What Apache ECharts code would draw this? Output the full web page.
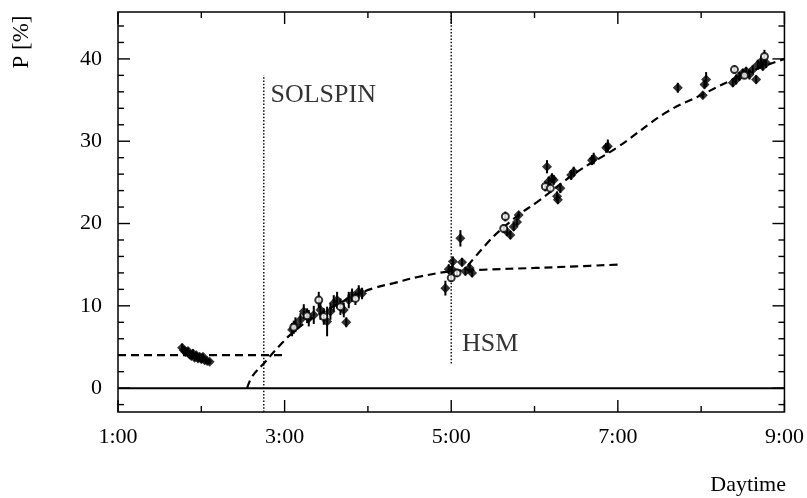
<!DOCTYPE html>
<html>
<head>
<meta charset="utf-8">
<script src="https://cdn.jsdelivr.net/npm/echarts@6/dist/echarts.min.js"></script>
<style>
  html, body { margin: 0; padding: 0; background: #fff; }
  #chart { width: 807px; height: 498px; }
</style>
</head>
<body>
<div id="chart"></div>
<script>
// measurements: [hour, P %, error]
const filledPoints = [
  [1.77, 4.9, 0.5], [1.79, 4.6, 0.4], [1.81, 4.4, 0.5], [1.84, 4.5, 0.4], [1.86, 4.1, 0.4],
  [1.88, 3.9, 0.4], [1.90, 4.2, 0.5], [1.92, 3.7, 0.4], [1.94, 4.0, 0.4], [1.96, 3.6, 0.4],
  [1.98, 3.8, 0.4], [2.00, 3.5, 0.4], [2.02, 3.8, 0.4], [2.04, 3.4, 0.3], [2.07, 3.3, 0.3],
  [2.10, 3.2, 0.3],
  [3.09, 7.1, 0.8], [3.13, 7.7, 0.9], [3.19, 8.3, 0.8], [3.23, 9.3, 0.9], [3.29, 8.5, 1.0],
  [3.35, 8.9, 1.1], [3.43, 9.5, 1.2], [3.51, 8.1, 1.8], [3.55, 9.3, 1.0], [3.59, 10.3, 1.0],
  [3.63, 10.7, 1.0], [3.71, 9.5, 0.9], [3.74, 8.0, 0.6], [3.77, 10.7, 1.0], [3.81, 11.3, 0.8],
  [3.89, 11.7, 0.8], [3.93, 11.5, 0.7],
  [4.93, 12.15, 0.9], [4.97, 14.45, 0.6], [5.02, 15.4, 0.6], [5.01, 14.4, 0.5], [5.11, 18.2, 1.0],
  [5.13, 15.3, 0.5], [5.17, 14.2, 0.5], [5.22, 14.6, 0.6], [5.25, 14.0, 0.5],
  [5.67, 19.0, 0.5], [5.71, 18.6, 0.5], [5.75, 19.6, 0.5], [5.79, 20.2, 0.4], [5.81, 21.05, 0.4],
  [6.15, 26.9, 0.8], [6.21, 25.5, 0.6], [6.17, 25.1, 0.6], [6.23, 25.3, 0.6], [6.27, 23.3, 0.6],
  [6.28, 22.9, 0.5], [6.31, 24.3, 0.6], [6.44, 25.9, 0.6], [6.47, 26.3, 0.6], [6.69, 27.7, 0.6],
  [6.71, 27.9, 0.7], [6.86, 29.2, 0.6], [6.88, 29.4, 0.8],
  [7.72, 36.5, 0.6], [8.02, 35.6, 0.4], [8.04, 36.9, 0.5], [8.06, 37.5, 0.9], [8.38, 37.1, 0.5],
  [8.42, 37.5, 0.6], [8.46, 37.9, 0.5], [8.50, 38.3, 0.5], [8.54, 38.5, 0.5], [8.58, 38.1, 0.6],
  [8.62, 38.7, 0.5], [8.66, 37.5, 0.5], [8.68, 39.3, 0.6], [8.72, 39.7, 0.6], [8.78, 39.5, 0.6],
  [8.74, 39.1, 0.5]
];
const openPoints = [
  [3.11, 7.4, 0.8], [3.27, 8.8, 0.9], [3.41, 10.7, 1.0], [3.47, 8.7, 1.0], [3.67, 9.9, 1.0],
  [3.85, 10.9, 0.8],
  [5.00, 13.4, 0.5], [5.07, 14.0, 0.5],
  [5.63, 19.4, 0.5], [5.65, 20.85, 0.6],
  [6.13, 24.5, 0.6], [6.19, 24.3, 0.6],
  [8.40, 38.7, 0.5], [8.52, 38.0, 0.4], [8.76, 40.3, 0.8]
];

// dashed fits
const flatFit = [[1.0, 4.0], [3.0, 4.0]];
const riseFit = [
  [2.55, 0], [2.61, 1.4], [2.75, 3.0], [2.93, 5.05], [3.07, 6.5], [3.3, 8.3], [3.6, 10.0],
  [3.85, 11.3], [4.07, 12.15], [4.31, 12.76], [4.6, 13.5], [5.0, 14.2], [5.4, 14.4],
  [6.0, 14.6], [6.5, 14.8], [7.0, 15.0]
];
const secondFit = [
  [5.2, 14.9], [5.43, 17.6], [5.59, 19.2], [5.83, 21.2], [6.03, 22.6], [6.5, 26.2],
  [7.0, 29.3], [7.58, 33.5], [8.0, 35.6], [8.38, 37.5], [8.7, 38.9], [9.0, 40.0]
];
const zeroLine = [[1, 0], [9, 0]];
const solspinLine = [[2.75, -2.9], [2.75, 38]];
const hsmLine = [[5.0, 3.0], [5.0, 45.7]];
const annotations = [
  { name: 'SOLSPIN', value: [2.83, 35.6] },
  { name: 'HSM', value: [5.13, 5.3] }
];

const xLabels = [1, 3, 5, 7, 9];
const xMinor = [2, 4, 6, 8];
const yLabels = [0, 10, 20, 30, 40];
const yMinor = [-2, 2, 4, 6, 8, 12, 14, 16, 18, 22, 24, 26, 28, 32, 34, 36, 38, 42, 44];

const X_MIN = 1, X_MAX = 9, Y_MIN = -2.9, Y_MAX = 45.7;
const FONT = 'Liberation Serif';
const black = '#000';
const MAJOR = 12, MINOR = 6;

const errorData = filledPoints.concat(openPoints);

const chart = echarts.init(document.getElementById('chart'));
chart.setOption({
  animation: false,
  grid: {
    left: 118, right: 20, top: 12, bottom: 86,
    show: true, borderColor: black, borderWidth: 1.5
  },
  xAxis: {
    type: 'value', min: X_MIN, max: X_MAX,
    axisLine: { show: false, onZero: false },
    axisTick: { show: false },
    splitLine: { show: false },
    axisLabel: {
      customValues: xLabels, color: black, fontFamily: FONT, fontSize: 22, margin: 14,
      formatter: (v) => v + ':00'
    }
  },
  yAxis: {
    type: 'value', min: Y_MIN, max: Y_MAX,
    axisLine: { show: false, onZero: false },
    axisTick: { show: false },
    splitLine: { show: false },
    axisLabel: {
      customValues: yLabels, color: black, fontFamily: FONT, fontSize: 22, margin: 16
    }
  },
  series: [
    {
      type: 'line', data: zeroLine, symbol: 'none',
      lineStyle: { color: black, width: 2 }
    },
    {
      type: 'line', data: solspinLine, symbol: 'none',
      lineStyle: { color: black, width: 1.4, type: [1.5, 1.8] }
    },
    {
      type: 'line', data: hsmLine, symbol: 'none',
      lineStyle: { color: black, width: 1.4, type: [1.5, 1.8] }
    },
    {
      type: 'line', data: flatFit, symbol: 'none',
      lineStyle: { color: black, width: 2.2, type: [8, 5] }
    },
    {
      type: 'line', data: riseFit, symbol: 'none', smooth: 0.4,
      lineStyle: { color: black, width: 2.2, type: [8, 5] }
    },
    {
      type: 'line', data: secondFit, symbol: 'none', smooth: 0.4,
      lineStyle: { color: black, width: 2.2, type: [8, 5] }
    },
    {
      type: 'custom',
      data: errorData,
      renderItem: function (params, api) {
        const lo = api.coord([api.value(0), api.value(1) - api.value(2)]);
        const hi = api.coord([api.value(0), api.value(1) + api.value(2)]);
        return {
          type: 'line',
          shape: { x1: lo[0], y1: lo[1], x2: hi[0], y2: hi[1] },
          style: { stroke: black, lineWidth: 2 }
        };
      },
      z: 3
    },
    {
      type: 'scatter', data: filledPoints, symbol: 'diamond', symbolSize: 10,
      itemStyle: { color: black }, z: 4
    },
    {
      type: 'scatter', data: openPoints, symbol: 'circle', symbolSize: 7,
      itemStyle: { color: '#fff', borderColor: black, borderWidth: 2 }, z: 5
    },
    {
      type: 'scatter', data: annotations, symbolSize: 0,
      label: {
        show: true, position: 'right', distance: 0,
        formatter: '{b}', color: black, fontFamily: FONT, fontSize: 26
      }
    }
  ]
});

// inward ticks on all four sides, placed through the grid's own scales
const toPx = (x, y) => chart.convertToPixel({ gridIndex: 0 }, [x, y]);
const tickLine = (x1, y1, x2, y2) => ({
  type: 'line', z: 100,
  shape: { x1, y1, x2, y2 },
  style: { stroke: black, lineWidth: 1.4 }
});
const ticks = [];
function addXTicks(values, len) {
  values.forEach((v) => {
    const b = toPx(v, Y_MIN), t = toPx(v, Y_MAX);
    ticks.push(tickLine(b[0], b[1], b[0], b[1] - len));
    ticks.push(tickLine(t[0], t[1], t[0], t[1] + len));
  });
}
function addYTicks(values, len) {
  values.forEach((v) => {
    const l = toPx(X_MIN, v), r = toPx(X_MAX, v);
    ticks.push(tickLine(l[0], l[1], l[0] + len, l[1]));
    ticks.push(tickLine(r[0], r[1], r[0] - len, r[1]));
  });
}
addXTicks(xLabels, MAJOR);
addXTicks(xMinor, MINOR);
addYTicks(yLabels, MAJOR);
addYTicks(yMinor, MINOR);

chart.setOption({
  graphic: [
    {
      type: 'text', x: 22, y: 42, rotation: Math.PI / 2,
      style: { text: 'P [%]', font: '23px "Liberation Serif"', fill: black, align: 'center', verticalAlign: 'middle' }
    },
    {
      type: 'text', right: 21, top: 474,
      style: { text: 'Daytime', font: '22px "Liberation Serif"', fill: black }
    }
  ].concat(ticks)
});
</script>
</body>
</html>
